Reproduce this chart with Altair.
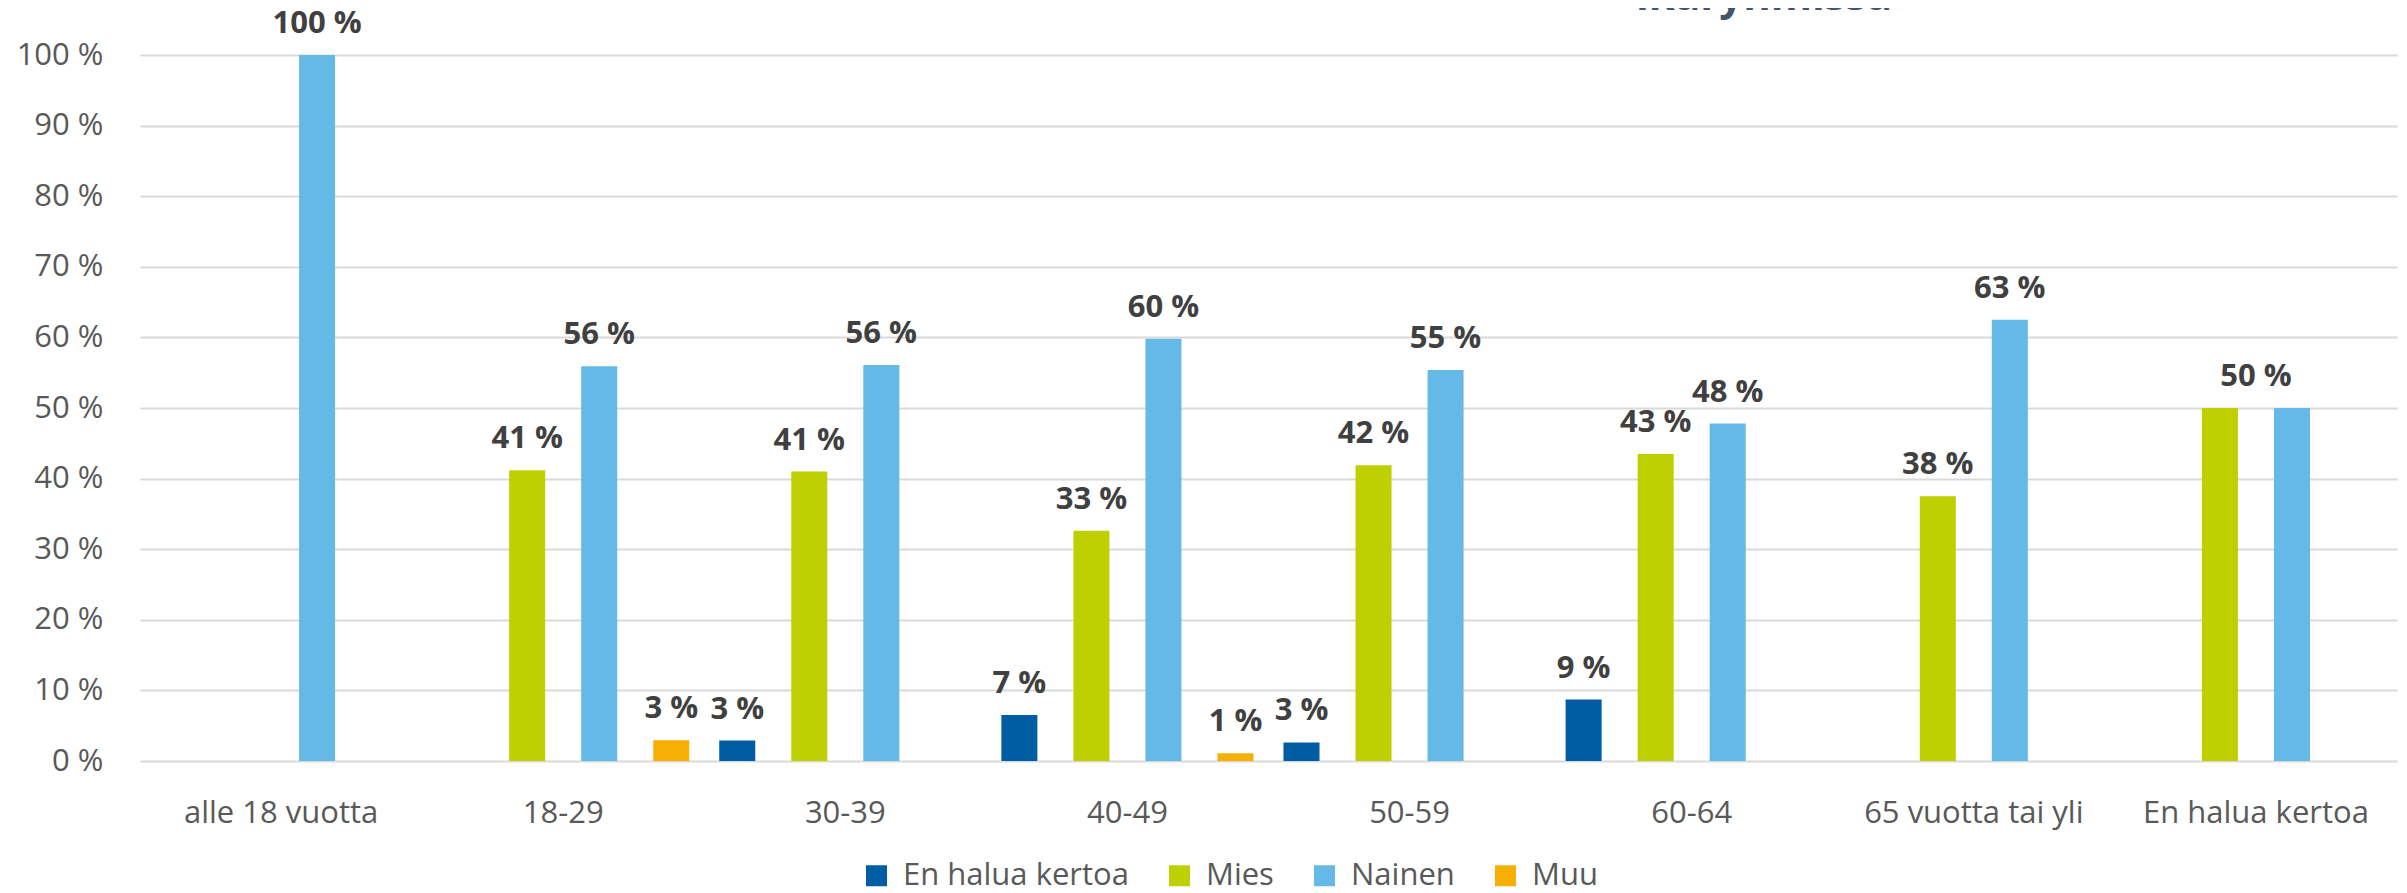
import altair as alt
import pandas as pd

# ---- data ----
categories = ["alle 18 vuotta", "18-29", "30-39", "40-49", "50-59", "60-64",
              "65 vuotta tai yli", "En halua kertoa"]
series_names = ["En halua kertoa", "Mies", "Nainen", "Muu"]
en_halua = [None, None, 2.9, 6.52, 2.63, 8.7, None, None]
mies = [None, 41.2, 41.0, 32.6, 41.9, 43.48, 37.5, 50.0]
nainen = [100.0, 55.9, 56.1, 59.8, 55.4, 47.8, 62.5, 50.0]
muu = [None, 2.94, None, 1.09, None, None, None, None]
series_colors = ["#005DA4", "#BED000", "#64B9E7", "#F8AF05"]
# categories whose equal bars share one centred value label
shared_label_categories = ["En halua kertoa"]
title_text = "ikäryhmissä"

rows = []
for name, vals in zip(series_names, [en_halua, mies, nainen, muu]):
    for cat, v in zip(categories, vals):
        if v is not None:
            rows.append({"category": cat, "series": name, "value": v,
                         "label": f"{int(v + 0.5)} %"})
df = pd.DataFrame(rows)
bar_labels_df = df[~df["category"].isin(shared_label_categories)]
shared_df = (df[df["category"].isin(shared_label_categories)]
             .groupby("category", as_index=False)
             .agg(value=("value", "max"), label=("label", "first")))

FONT = "Open Sans"

x_enc = alt.X(
    "category:N", sort=categories,
    scale=alt.Scale(paddingInner=0, paddingOuter=0),
    axis=alt.Axis(title=None, labelAngle=0, labelFontSize=31, labelColor="#595959",
                  labelFont=FONT, domain=False, ticks=False, tickSize=0,
                  labelPadding=61, labelBaseline="alphabetic", grid=False,
                  labelLimit=0, labelOverlap=False),
)
xoff_enc = alt.XOffset("series:N", sort=series_names,
                       scale=alt.Scale(paddingInner=0.5, paddingOuter=0.208))
y_enc = alt.Y(
    "value:Q",
    scale=alt.Scale(domain=[0, 100], nice=False),
    axis=alt.Axis(title=None, values=list(range(0, 101, 10)),
                  labelExpr="datum.value + ' %'", domain=False, ticks=False,
                  tickSize=0, labelPadding=37, gridColor="#d9d9d9", gridWidth=2,
                  labelFontSize=31, labelColor="#595959", labelFont=FONT),
)

bars = alt.Chart(df).mark_bar().encode(
    x=x_enc,
    xOffset=xoff_enc,
    y=y_enc,
    color=alt.Color(
        "series:N", sort=series_names,
        scale=alt.Scale(domain=series_names, range=series_colors),
        legend=alt.Legend(title=None, orient="none", direction="horizontal",
                          legendX=721, legendY=805, symbolType="square",
                          symbolSize=441, symbolStrokeWidth=0, labelFontSize=31,
                          labelColor="#595959", labelFont=FONT, labelOffset=11,
                          columnPadding=35, padding=0, labelLimit=0),
    ),
)

label_style = dict(baseline="alphabetic", dy=-22, fontSize=31,
                   fontWeight="bold", color="#404040", font=FONT)

labels = alt.Chart(bar_labels_df).mark_text(**label_style).encode(
    x=x_enc, xOffset=xoff_enc, y=y_enc, text="label:N"
)

shared_labels = alt.Chart(shared_df).mark_text(**label_style).encode(
    x=x_enc, y=y_enc, text="label:N"
)

title = alt.Chart(pd.DataFrame({"t": [title_text]})).mark_text(
    fontSize=42, fontWeight="bold", color="#44546A", align="center",
    baseline="alphabetic", font=FONT
).encode(x=alt.value(1624), y=alt.value(-45), text="t:N")

chart = alt.layer(bars, labels, shared_labels, title).properties(
    width=2257, height=706,
    autosize=alt.AutoSizeParams(type="none"),
    padding={"left": 132, "top": 47, "right": 2, "bottom": 132},
).configure_view(stroke=None)

chart.save("out.html", embed_options={"renderer": "svg", "actions": False})
